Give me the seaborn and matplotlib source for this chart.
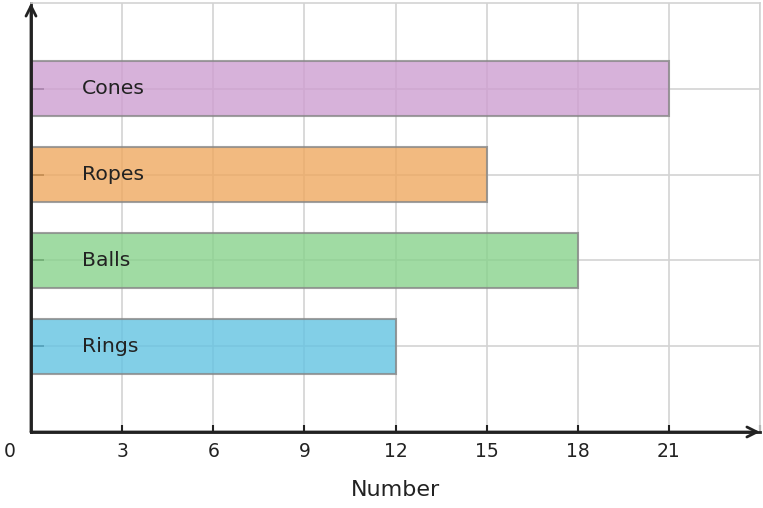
import matplotlib
matplotlib.use("Agg")
import matplotlib.pyplot as plt
import matplotlib.transforms as mtransforms
import seaborn as sns
import pandas as pd

categories = ["Cones", "Ropes", "Balls", "Rings"]
values = [21, 15, 18, 12]
colors = ["#CE9FD1", "#EFA960", "#88D28C", "#63C3E2"]
xticks = [3, 6, 9, 12, 15, 18, 21]

sns.set_theme(style="white")
plt.rcParams['font.family'] = ['DejaVu Sans']

df = pd.DataFrame({"item": categories, "count": values})

fig = plt.figure(figsize=(7.63, 5.08), dpi=100)
ax = fig.add_axes([31/763, 76/508, 729/763, 429/508])
ax.set_axisbelow(True)

sns.barplot(data=df, x="count", y="item", hue="item", palette=colors, orient="h",
            width=0.64, alpha=0.8, edgecolor="#888888", linewidth=1.5,
            saturation=1, legend=False, ax=ax)

ax.set_xlim(0, 24)
ax.set_ylim(4, -1)
ax.set_xticks(xticks + [24])
ax.set_xticklabels([str(t) for t in xticks] + [""], fontsize=13.5, color="#222222")
ax.set_yticks(range(len(categories)))
ax.set_yticklabels([""] * len(categories))
ax.grid(True, color="#d3d3d3", linewidth=1.2)
ax.tick_params(axis="x", direction="in", length=5, width=1.5, color="#222222", pad=7)
ax.tick_params(axis="y", direction="in", length=9, width=1.3, color="#222222")
ax.tick_params(axis="x", which="major", bottom=True)
ax.tick_params(axis="y", which="major", left=True)

for s in ["top", "right"]:
    ax.spines[s].set_color("#d3d3d3")
    ax.spines[s].set_linewidth(1.2)
for s in ["left", "bottom"]:
    ax.spines[s].set_color("#222222")
    ax.spines[s].set_linewidth(2)

ax.set_xlabel("Number", fontsize=16, color="#222222", labelpad=14)
ax.set_ylabel("")

for i, name in enumerate(categories):
    ax.text(1.68, i, name, va="center", ha="left", fontsize=14.7, color="#222222")

trans = mtransforms.blended_transform_factory(ax.transData, ax.transAxes)
ax.text(-0.69, -0.0466, "0", transform=trans, ha="center", va="center",
        fontsize=13.5, color="#222222", clip_on=False)

ax.annotate("", xy=(1.0, 0), xytext=(0, 0), xycoords="axes fraction",
            arrowprops=dict(arrowstyle="->", lw=2, color="#222222",
                            mutation_scale=18, shrinkA=0, shrinkB=0))
ax.annotate("", xy=(0, 1.0), xytext=(0, 0), xycoords="axes fraction",
            arrowprops=dict(arrowstyle="->", lw=2, color="#222222",
                            mutation_scale=18, shrinkA=0, shrinkB=0))

fig.savefig("out.png", dpi=100)
